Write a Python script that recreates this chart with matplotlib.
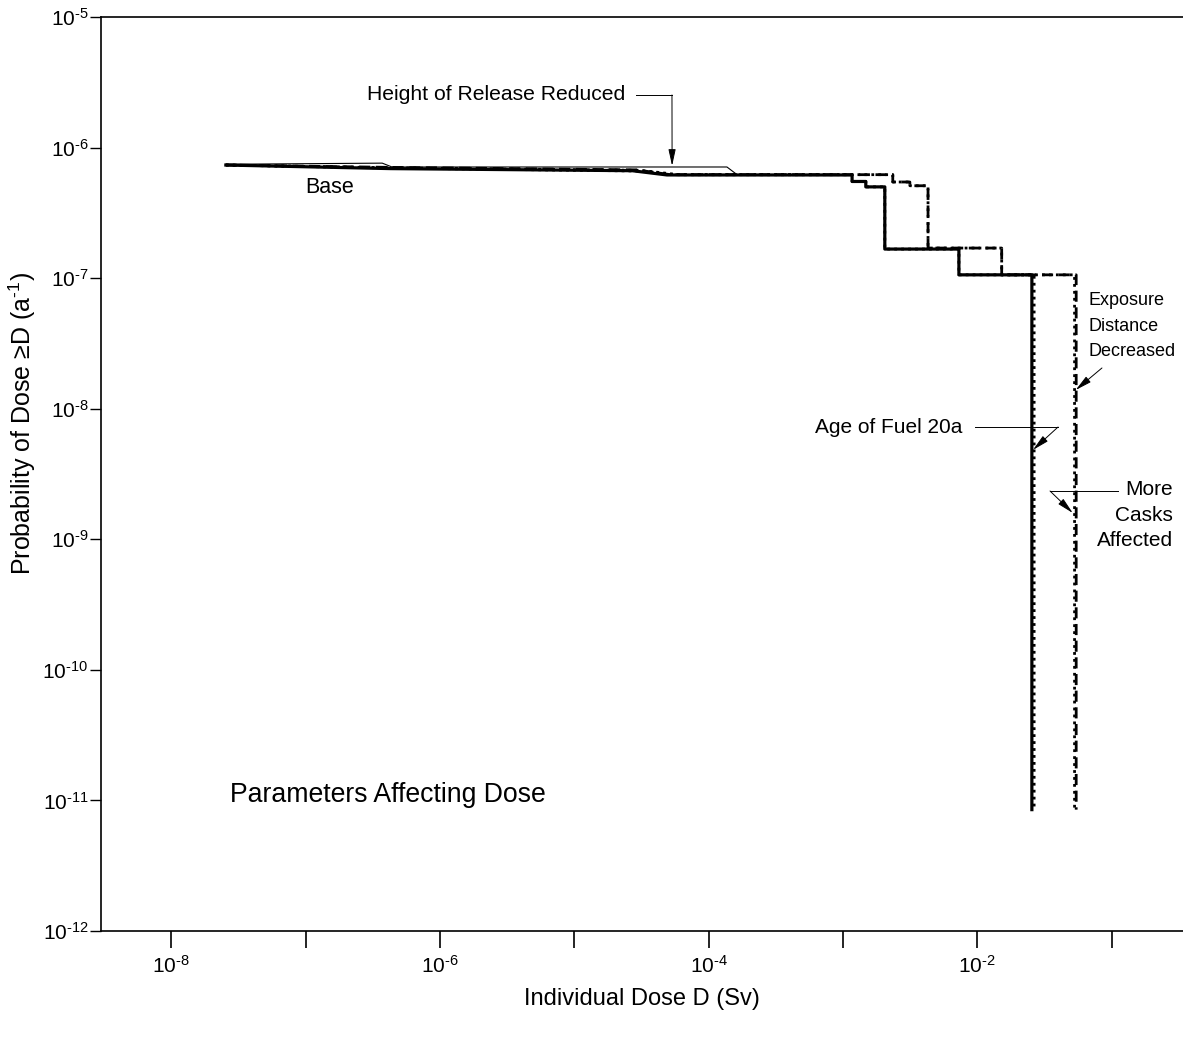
import matplotlib
matplotlib.use("Agg")
import matplotlib.pyplot as plt

plt.rcParams['font.family'] = ['Liberation Sans', 'DejaVu Sans']
plt.rcParams['mathtext.fontset'] = 'custom'
plt.rcParams['mathtext.rm'] = 'Liberation Sans'
plt.rcParams['mathtext.it'] = 'Liberation Sans:italic'
plt.rcParams['mathtext.bf'] = 'Liberation Sans:bold'

# individual dose D (Sv) vs probability of dose >= D (1/a)
# each curve: a slowly falling head, then the step drops (dose of the drop, level after it)
base_head_dose = [2.55e-8, 4.3e-7, 2.7e-5, 4.9e-5]
base_head_prob = [7.35e-7, 6.9e-7, 6.65e-7, 6.17e-7]
base_step_dose = [1.17e-3, 1.48e-3, 2.05e-3, 7.3e-3, 2.55e-2]
base_step_prob = [5.5e-7, 5.0e-7, 1.67e-7, 1.06e-7, 8.5e-12]

height_head_dose = [2.55e-8, 3.72e-7, 4.4e-7, 1.37e-4, 1.63e-4]
height_head_prob = [7.45e-7, 7.6e-7, 7.1e-7, 7.1e-7, 6.2e-7]
height_step_dose = [1.17e-3, 1.48e-3, 2.05e-3, 7.3e-3, 2.55e-2]
height_step_prob = [5.5e-7, 5.0e-7, 1.67e-7, 1.06e-7, 8.5e-12]

fuel_head_dose = [2.55e-8, 3.3e-7, 3.5e-5, 6.0e-5]
fuel_head_prob = [7.35e-7, 7.0e-7, 6.6e-7, 6.2e-7]
fuel_step_dose = [1.17e-3, 1.48e-3, 2.05e-3, 7.3e-3, 2.65e-2]
fuel_step_prob = [5.5e-7, 5.0e-7, 1.67e-7, 1.06e-7, 8.5e-12]

expo_head_dose = [2.55e-8, 4.0e-7, 3.0e-5, 5.5e-5]
expo_head_prob = [7.35e-7, 7.0e-7, 6.7e-7, 6.2e-7]
expo_step_dose = [2.35e-3, 3.15e-3, 4.3e-3, 1.52e-2, 5.3e-2]
expo_step_prob = [5.45e-7, 5.1e-7, 1.70e-7, 1.06e-7, 8.5e-12]

casks_head_dose = [2.55e-8, 4.4e-7, 2.9e-5, 5.2e-5]
casks_head_prob = [7.35e-7, 7.05e-7, 6.75e-7, 6.2e-7]
casks_step_dose = [2.35e-3, 3.15e-3, 4.3e-3, 1.52e-2, 5.45e-2]
casks_step_prob = [5.45e-7, 5.1e-7, 1.70e-7, 1.06e-7, 8.5e-12]

x_ticks = [1e-8, 1e-7, 1e-6, 1e-5, 1e-4, 1e-3, 1e-2, 1e-1]
x_tick_labels = [r'$10^{\text{-}8}$', '', r'$10^{\text{-}6}$', '', r'$10^{\text{-}4}$', '',
                 r'$10^{\text{-}2}$', '']
y_ticks = [1e-12, 1e-11, 1e-10, 1e-9, 1e-8, 1e-7, 1e-6, 1e-5]
y_tick_labels = [r'$10^{\text{-}12}$', r'$10^{\text{-}11}$', r'$10^{\text{-}10}$',
                 r'$10^{\text{-}9}$', r'$10^{\text{-}8}$', r'$10^{\text{-}7}$',
                 r'$10^{\text{-}6}$', r'$10^{\text{-}5}$']


def curve(head_d, head_p, step_d, step_p):
    xs, ys = list(head_d), list(head_p)
    for d, p in zip(step_d, step_p):
        xs += [d, d]
        ys += [ys[-1], p]
    return xs, ys


fig = plt.figure(figsize=(11.83, 10.37), dpi=100)
ax = fig.add_axes([101 / 1183, 1 - 931 / 1037, 1082 / 1183, 914 / 1037])
ax.set_xscale('log')
ax.set_yscale('log')
ax.set_xlim(3.0e-9, 0.34)
ax.set_ylim(1e-12, 1e-5)

x, y = curve(casks_head_dose, casks_head_prob, casks_step_dose, casks_step_prob)
ax.plot(x, y, color='black', lw=2.0, ls=(0, (4, 2)), zorder=2)
x, y = curve(expo_head_dose, expo_head_prob, expo_step_dose, expo_step_prob)
ax.plot(x, y, color='black', lw=2.0, ls=(0, (1, 1.5)), zorder=3)
x, y = curve(fuel_head_dose, fuel_head_prob, fuel_step_dose, fuel_step_prob)
ax.plot(x, y, color='black', lw=2.0, ls=(0, (1, 1.5)), zorder=3)
x, y = curve(height_head_dose, height_head_prob, height_step_dose, height_step_prob)
ax.plot(x, y, color='black', lw=0.8, zorder=4)
x, y = curve(base_head_dose, base_head_prob, base_step_dose, base_step_prob)
ax.plot(x, y, color='black', lw=2.3, zorder=5)

# axes styling
for side in ['left', 'bottom', 'top']:
    ax.spines[side].set_linewidth(1.2)
ax.spines['right'].set_visible(False)
ax.set_xticks(x_ticks)
ax.set_xticklabels(x_tick_labels)
ax.set_yticks(y_ticks)
ax.set_yticklabels(y_tick_labels)
ax.minorticks_off()
ax.tick_params(axis='x', direction='out', length=12, width=1.2, pad=5, labelsize=15)
ax.tick_params(axis='y', direction='out', length=8, width=1.0, pad=1, labelsize=15)

ax.set_xlabel('Individual Dose D (Sv)', fontsize=17)
ax.xaxis.set_label_coords(0.5, -0.062)
ax.set_ylabel(r'Probability of Dose ≥D (a$^{\text{-}1}$)', fontsize=18)
ax.yaxis.set_label_coords(-0.058, 0.555)

# labels and leaders
thin = dict(color='black', lw=0.7)
arrow = dict(arrowstyle='-|>,head_length=1.0,head_width=0.22', color='black', lw=0.7,
             shrinkA=0, shrinkB=0)

ax.text(0.4843, 0.9147, 'Height of Release Reduced', fontsize=15.2, ha='right', va='center',
        transform=ax.transAxes)
ax.plot([0.494, 0.5277], [0.9147, 0.9147], transform=ax.transAxes, **thin)
ax.annotate('', xy=(5.35e-5, 7.25e-7), xycoords='data',
            xytext=(0.5277, 0.9147), textcoords='axes fraction', arrowprops=arrow)

ax.text(0.2116, 0.8135, 'Base', fontsize=15.5, ha='center', va='center', transform=ax.transAxes)
ax.text(0.1192, 0.1488, 'Parameters Affecting Dose', fontsize=19.2, ha='left', va='center',
        transform=ax.transAxes)

ax.text(0.9122, 0.6619, 'Exposure\nDistance\nDecreased', fontsize=13, ha='left', va='center',
        linespacing=1.68, transform=ax.transAxes)
ax.annotate('', xy=(5.4e-2, 1.39e-8), xycoords='data',
            xytext=(0.9251, 0.616), textcoords='axes fraction', arrowprops=arrow)

ax.text(0.7957, 0.5514, 'Age of Fuel 20a', fontsize=15, ha='right', va='center',
        transform=ax.transAxes)
ax.plot([0.808, 0.8845], [0.5514, 0.5514], transform=ax.transAxes, **thin)
ax.annotate('', xy=(2.6e-2, 4.84e-9), xycoords='data',
            xytext=(0.8845, 0.5514), textcoords='axes fraction', arrowprops=arrow)

ax.text(0.9908, 0.4551, 'More\nCasks\nAffected', fontsize=15, ha='right', va='center',
        linespacing=1.43, transform=ax.transAxes)
ax.plot([0.940, 0.8771], [0.4814, 0.4814], transform=ax.transAxes, **thin)
ax.annotate('', xy=(5.14e-2, 1.59e-9), xycoords='data',
            xytext=(0.8771, 0.4814), textcoords='axes fraction', arrowprops=arrow)

fig.savefig('out.png', dpi=100)
